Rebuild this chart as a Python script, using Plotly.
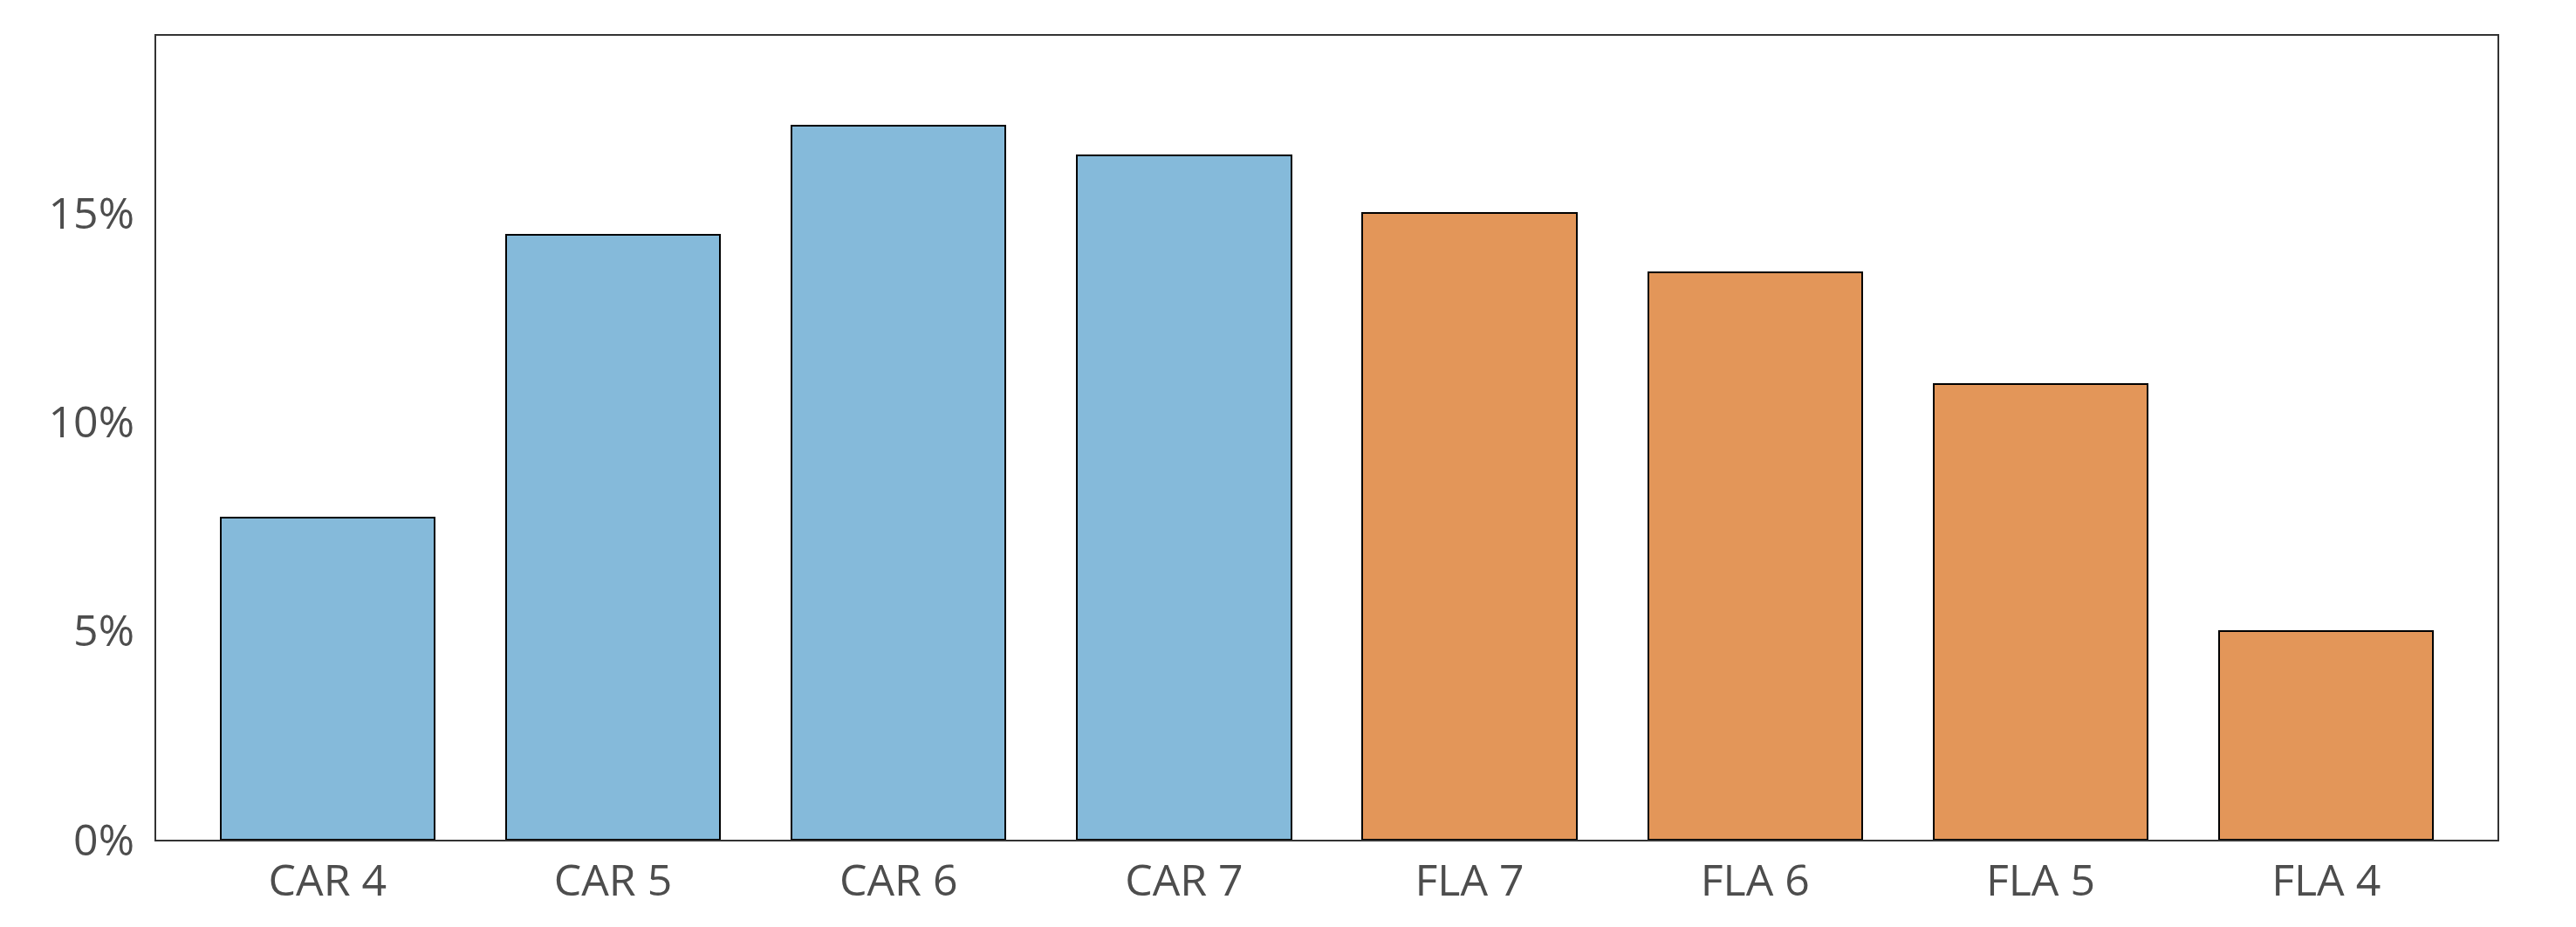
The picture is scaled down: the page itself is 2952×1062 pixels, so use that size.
import plotly.graph_objects as go

categories = ["CAR 4", "CAR 5", "CAR 6", "CAR 7", "FLA 7", "FLA 6", "FLA 5", "FLA 4"]
values = [7.72, 14.49, 17.09, 16.38, 15.0, 13.58, 10.91, 5.0]
groups = ["CAR", "CAR", "CAR", "CAR", "FLA", "FLA", "FLA", "FLA"]
group_colors = {"CAR": "#85BADA", "FLA": "#E39659"}
y_ticks = [0, 5, 10, 15]

colors = [group_colors[g] for g in groups]

fig = go.Figure(
    go.Bar(
        x=list(range(len(categories))),
        y=values,
        width=0.75,
        marker=dict(color=colors, line=dict(color="#000000", width=2)),
        hoverinfo="skip",
    )
)

font_family = "Open Sans"
text_color = "#4d4d4d"
font_size = 50

fig.update_layout(
    width=2952,
    height=1062,
    margin=dict(l=179, r=90, t=41, b=100),
    paper_bgcolor="white",
    plot_bgcolor="white",
    showlegend=False,
    font=dict(family=font_family, size=font_size, color=text_color),
    bargap=0,
)

fig.update_xaxes(
    range=[-0.6, 7.6],
    tickmode="array",
    tickvals=list(range(len(categories))),
    ticktext=categories,
    showgrid=False,
    zeroline=False,
    showline=True,
    mirror=True,
    linecolor="#333333",
    linewidth=2,
    ticks="",
    ticklabelstandoff=2,
    tickfont=dict(family=font_family, size=font_size, color=text_color),
)

fig.update_yaxes(
    range=[0, 19.25],
    tickmode="array",
    tickvals=y_ticks,
    ticktext=[f"{v}%" for v in y_ticks],
    showgrid=False,
    zeroline=False,
    showline=True,
    mirror=True,
    linecolor="#333333",
    linewidth=2,
    ticks="",
    ticklabelstandoff=13,
    tickfont=dict(family=font_family, size=font_size, color=text_color),
)

fig.write_html("out.html")
